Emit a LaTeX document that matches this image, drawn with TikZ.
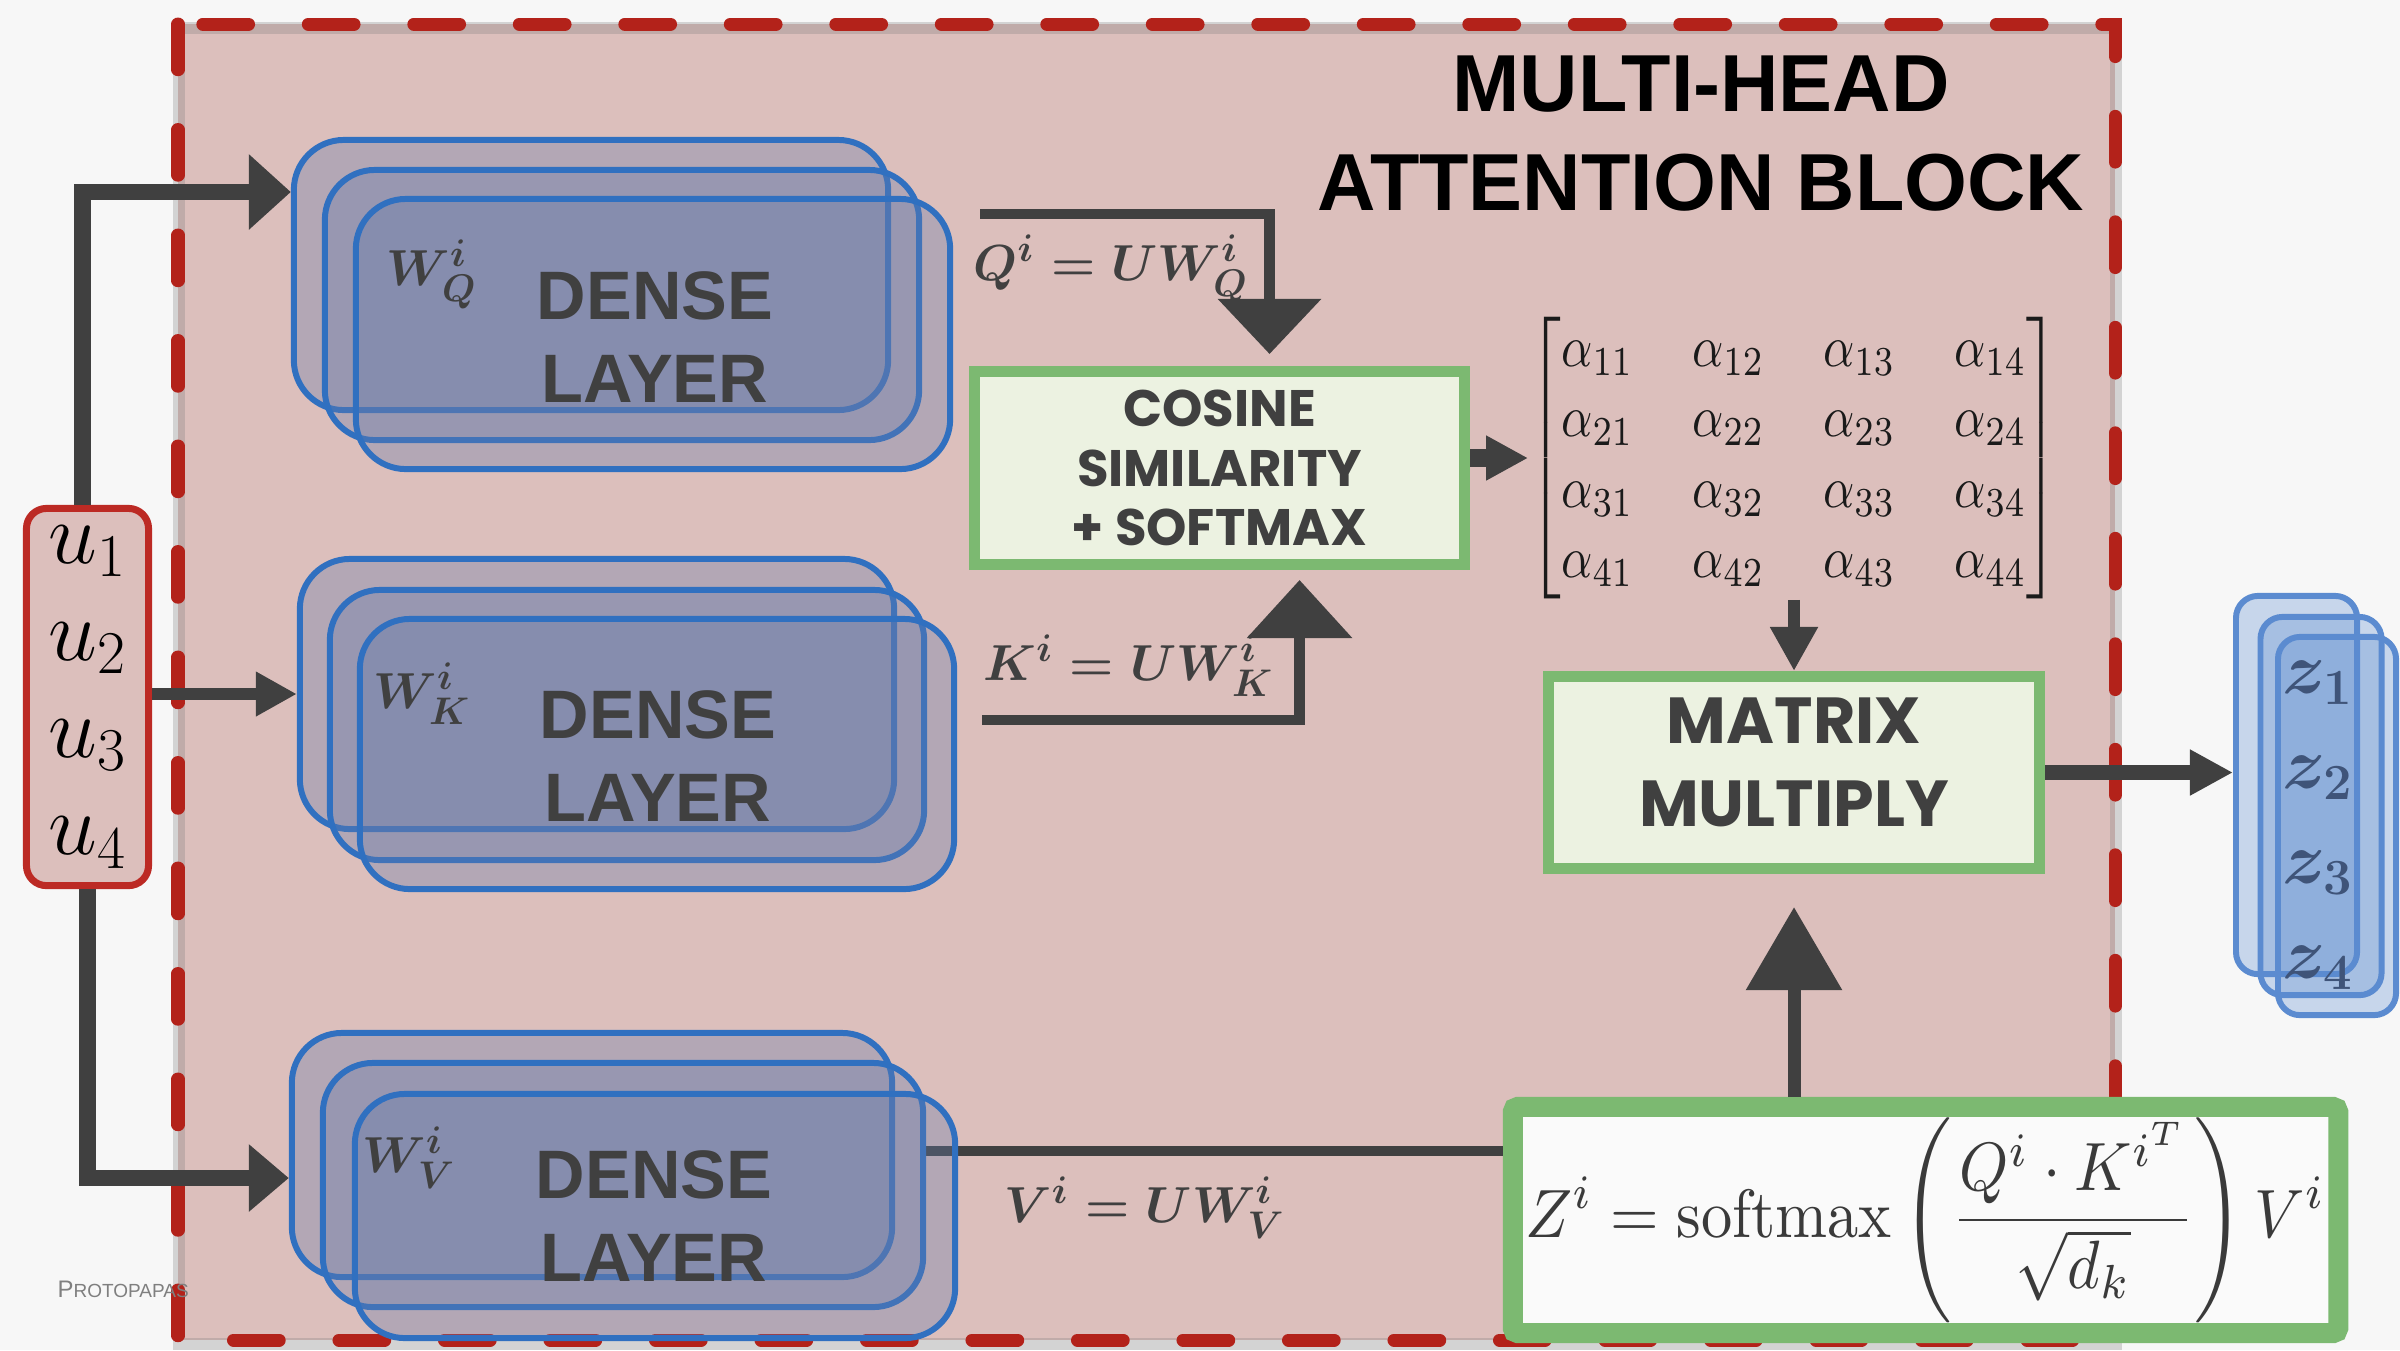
\documentclass[tikz,border=0pt]{standalone}
\usepackage{amsmath}
\usepackage{graphicx}
\usepackage{fontspec}
\newfontfamily\titlefont{Liberation Sans}
\newfontfamily\heavyfont{Poppins}
\usetikzlibrary{arrows.meta}
\definecolor{bggray}{HTML}{F7F7F7}
\definecolor{blockpink}{HTML}{DCBFBC}
\definecolor{dashred}{HTML}{B3221A}
\definecolor{arrowgray}{HTML}{404040}
\definecolor{denseline}{HTML}{3070C0}
\definecolor{densefill}{HTML}{667BAA}
\definecolor{boxgreen}{HTML}{7CB971}
\definecolor{boxfill}{HTML}{ECF2E1}
\definecolor{ured}{HTML}{BC2A24}
\definecolor{zline}{HTML}{5B8BD0}
\definecolor{zlabel}{HTML}{3F5479}
\definecolor{textgray}{HTML}{404040}
\definecolor{formulabg}{HTML}{FAFAFA}
\definecolor{formulatext}{HTML}{3A3A3A}
\definecolor{matblack}{HTML}{1A1A1A}
\definecolor{signgray}{HTML}{7F7F7F}

\begin{document}
\begin{tikzpicture}[x=0.01cm,y=-0.01cm,
  dense/.style={draw=denseline,line width=1.7pt,rounded corners=0.5cm,fill=densefill,fill opacity=0.34,minimum width=5.94cm,minimum height=2.7cm},
  densev/.style={dense,minimum width=6cm,minimum height=2.44cm},
  greenbox/.style={draw=boxgreen,line width=3.1pt,fill=boxfill,inner sep=0pt},
  zstack/.style={draw=zline,line width=1.7pt,rounded corners=0.22cm,fill=zline,fill opacity=0.3,minimum width=1.21cm,minimum height=3.78cm},
  layertext/.style={text=textgray,align=center,font=\titlefont\bfseries\fontsize{19.5}{23.6}\selectfont},
  eqtext/.style={text=textgray,inner sep=0pt,font=\fontsize{15.5}{18}\selectfont\boldmath},
  flow/.style={draw=arrowgray,line width=#1}]
\useasboundingbox (0,0) rectangle (2400,1350);
\fill[bggray] (0,0) rectangle (2400,1350);
\fill[blockpink] (178,24) rectangle (2115,1340);
\draw[gray,opacity=0.3,line width=3.5pt] (179,28) rectangle (2116,1344);
\draw[dashred,line width=3.7pt,line cap=round,dash pattern=on 13pt off 17pt] (178,24) rectangle (2115,1340);

\node[greenbox,line width=5.7pt,rounded corners=0.05cm,fill=formulabg,minimum width=8.25cm,minimum height=2.26cm,text=formulatext] (zf) at (1925.5,1220)
  {\resizebox*{8.0cm}{2.05cm}{$\displaystyle Z^i = \mathrm{softmax}\left(\frac{Q^i\cdot K^{i^T}}{\sqrt{d_k}}\right)V^i$}};
\coordinate (vout) at (921,1151);
\draw[flow=3.1pt] (vout) -- (vout -| zf.west);

\node[dense] (q1) at (591,275) {};
\node[dense] (q2) at (622,305) {};
\node[dense] (q3) at (653,334) {};
\node[layertext] (qtext) at (655,337) {DENSE\\LAYER};
\node[eqtext,anchor=base west] (wq) at (386,285) {$W_Q^i$};

\node[dense] (k1) at (597,694) {};
\node[dense] (k2) at (627,725) {};
\node[dense] (k3) at (657,754) {};
\node[layertext] (ktext) at (658,756) {DENSE\\LAYER};
\node[eqtext,anchor=base west] (wk) at (373,708) {$W_K^i$};

\node[densev] (v1) at (592,1155) {};
\node[densev] (v2) at (623,1185) {};
\node[densev] (v3) at (655,1216) {};
\node[layertext] (vtext) at (654,1216) {DENSE\\LAYER};
\node[eqtext,anchor=base west] (wv) at (362,1172) {$W_V^i$};

\node[draw=ured,line width=2pt,fill=blockpink,rounded corners=0.2cm,minimum width=1.22cm,minimum height=3.77cm,inner sep=0pt,align=center,font=\fontsize{23}{27.6}\selectfont] (u) at (87.5,697) {$u_1$\\$u_2$\\$u_3$\\$u_4$};

\coordinate (qlev) at (0,192);
\coordinate (vlev) at (0,1178);
\draw[flow=4.8pt,-{Triangle[length=0.42cm,width=0.73cm]}] ([xshift=-0.05cm]u.north) |- (q1.west |- qlev);
\draw[flow=3.4pt,-{Triangle[length=0.41cm,width=0.42cm]}] (u.east |- k1) -- (k1.west);
\draw[flow=4.8pt,-{Triangle[length=0.4cm,width=0.65cm]}] (u.south) |- (v1.west |- vlev);

\node[greenbox,minimum width=4.9cm,minimum height=1.93cm,align=center,text=textgray,font=\heavyfont\bfseries\fontsize{14.6}{17}\selectfont] (cos) at (1219.5,468) {COSINE\\SIMILARITY\\+ SOFTMAX};
\node[inner sep=0pt,text=matblack] (mat) at (1794,458)
  {\resizebox*{5.3cm}{2.82cm}{$\arraycolsep=6pt\begin{bmatrix}
  \alpha_{11} & \alpha_{12} & \alpha_{13} & \alpha_{14}\\
  \alpha_{21} & \alpha_{22} & \alpha_{23} & \alpha_{24}\\
  \alpha_{31} & \alpha_{32} & \alpha_{33} & \alpha_{34}\\
  \alpha_{41} & \alpha_{42} & \alpha_{43} & \alpha_{44}
  \end{bmatrix}$}};
\node[greenbox,minimum width=4.91cm,minimum height=1.92cm] (mm) at (1794,772.5) {};
\node[align=center,text=textgray,font=\heavyfont\bfseries\fontsize{18.5}{23.6}\selectfont] (mmtext) at (1794,762) {MATRIX\\MULTIPLY};

\node[eqtext,anchor=base west] (qlab) at (973,280) {$Q^i = UW_Q^i$};
\node[eqtext,anchor=base west] (klab) at (983,680) {$K^i = UW_K^i$};
\node[eqtext,anchor=base west] (vlab) at (1004,1222) {$V^i = UW_V^i$};

\coordinate (qout) at (980,214);
\coordinate (kout) at (982,720);
\draw[flow=3.1pt,-{Triangle[length=0.55cm,width=1.01cm]}] (qout) -| ([xshift=0.5cm,yshift=0.12cm]cos.north);
\draw[flow=3.1pt,-{Triangle[length=0.58cm,width=1.03cm]}] (kout) -| ([xshift=0.8cm,yshift=-0.1cm]cos.south);
\draw[flow=5.1pt,-{Triangle[length=0.42cm,width=0.42cm]}] (cos.east |- mat) -- (mat.west);
\draw[flow=3.4pt,-{Triangle[length=0.44cm,width=0.45cm]}] (mat.south) -- (mm.north);
\draw[flow=3.7pt,-{Triangle[length=0.83cm,width=0.93cm]}] (zf.north -| mm) -- ([yshift=-0.33cm]mm.south);

\node[zstack] (z1) at (2296.5,785) {};
\node[zstack] (z2) at (2321,806) {};
\node[zstack,minimum width=1.18cm] (z3) at (2337,826) {};
\node[align=center,text=zlabel,font=\fontsize{22}{27}\selectfont\boldmath] (zt) at (2318,825) {$z_1$\\$z_2$\\$z_3$\\$z_4$};
\draw[flow=4.3pt,-{Triangle[length=0.43cm,width=0.43cm]}] (mm.east) -- (mm.east -| z1.west);

\node[font=\titlefont\bfseries\fontsize{23}{27.9}\selectfont,align=center] (title) at (1701,133.5) {MULTI-HEAD\\ATTENTION BLOCK};
\node[anchor=base west,inner sep=0pt,text=signgray,font=\titlefont] (sign) at (57,1297) {\fontsize{6.8}{8}\selectfont P\fontsize{5.4}{8}\selectfont ROTOPAPAS};
\end{tikzpicture}
\end{document}
